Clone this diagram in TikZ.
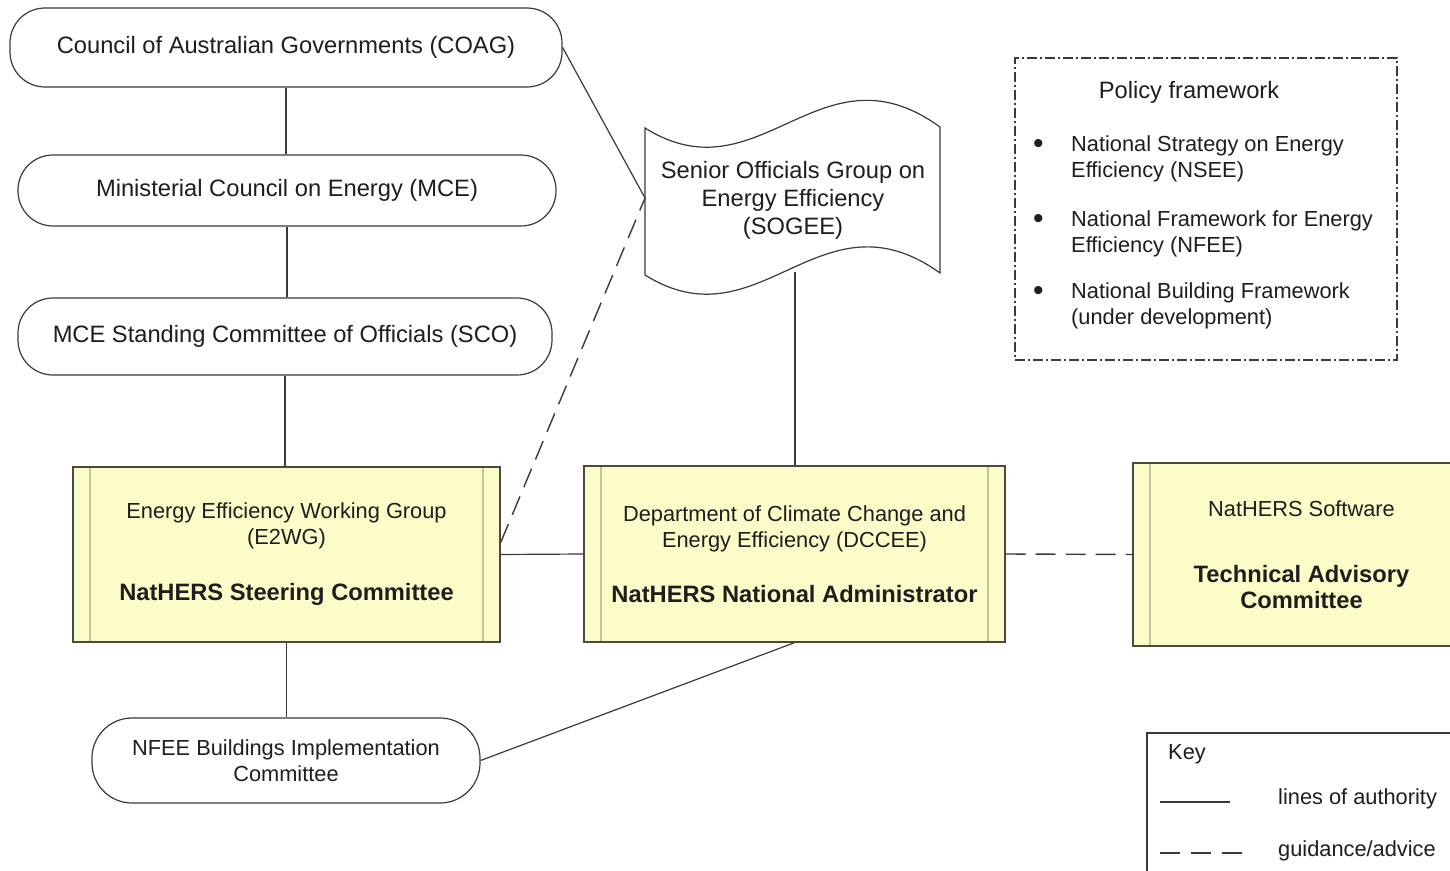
\documentclass[tikz,border=0pt]{standalone}
\usepackage{fontspec}
\setmainfont{Liberation Sans}
\definecolor{linec}{HTML}{3A3A3A}
\definecolor{txtc}{HTML}{1E1E1E}
\definecolor{yfill}{HTML}{FCFCC8}
\definecolor{boxc}{HTML}{4A4A40}
\definecolor{innerc}{HTML}{C4C49C}
\begin{document}
\begin{tikzpicture}[x=1pt,y=-1pt]
\tikzset{
  txt/.style={font=\fontsize{21.8}{26}\selectfont, text=txtc},
  big/.style={font=\fontsize{23.7}{28}\selectfont},
  oval/.style={draw=linec, line width=1.2pt, rounded corners=35pt, inner sep=0pt, txt, align=center},
  ybox/.style={draw=boxc, fill=yfill, line width=1.3pt, inner sep=0pt, align=center, txt,
    path picture={
      \draw[innerc, line width=1.6pt] ([xshift=17pt]path picture bounding box.north west) -- ([xshift=17pt]path picture bounding box.south west);
      \draw[innerc, line width=1.6pt] ([xshift=-17pt]path picture bounding box.north east) -- ([xshift=-17pt]path picture bounding box.south east);
    }},
  auth/.style={draw=linec, line width=1.2pt},
  advice/.style={auth, line width=1.4pt, dash pattern=on 20pt off 10pt},
  ptxt/.style={txt, anchor=west, inner sep=0pt},
}
\newcommand{\bigbf}[1]{{\fontsize{23.7}{28}\selectfont\bfseries #1}}
\useasboundingbox (0,0) rectangle (1450,870);
\clip (0,0) rectangle (1450,870);
\fill[white] (0,0) rectangle (1450,870);

% left column
\node[oval, big, minimum width=552pt, minimum height=79pt] (coag) at (286,47.5) {Council of Australian Governments (COAG)};
\node[oval, big, minimum width=538pt, minimum height=71pt] (mce) at (287,190.5) {Ministerial Council on Energy (MCE)};
\node[oval, big, minimum width=534pt, minimum height=77pt] (sco) at (285,336.5) {MCE Standing Committee of Officials (SCO)};
\node[ybox, minimum width=427pt, minimum height=175pt] (e2wg) at (286.5,554.5)
  {Energy Efficiency Working Group\\(E2WG)\\[30pt]\bigbf{NatHERS Steering Committee}};
\node[ybox, minimum width=421pt, minimum height=176pt] (dccee) at (794.5,554)
  {Department of Climate Change and\\Energy Efficiency (DCCEE)\\[29pt]\bigbf{NatHERS National Administrator}};
\node[ybox, minimum width=337pt, minimum height=183pt] (tac) at (1301.5,554.5)
  {NatHERS Software\\[40pt]\bigbf{Technical Advisory}\\\bigbf{Committee}};
\node[oval, minimum width=388pt, minimum height=85pt, rounded corners=40pt] (nfee) at (286,760.5)
  {NFEE Buildings Implementation\\Committee};

% SOGEE flag
\draw[linec, line width=1.2pt, fill=white]
  (645,128) .. controls (760,200) and (820,40) .. (940,127)
  -- (940,273) .. controls (820,187) and (760,347) .. (645,275) -- cycle;
\node[txt, big, align=center] (sogee) at (793,200)
  {Senior Officials Group on\\Energy Efficiency\\(SOGEE)};
\coordinate (sogeeL) at (645,198);
\coordinate (sogeeB) at (795,272);

% connectors
\draw[auth] (coag.south) -- (coag.south |- mce.north);
\draw[auth] (mce.south) -- (mce.south |- sco.north);
\draw[auth] (sco.south) -- (sco.south |- e2wg.north);
\draw[auth] (e2wg.south) -- (e2wg.south |- nfee.north);
\draw[auth] (coag.east) -- (sogeeL);
\draw[advice] ([yshift=12pt]e2wg.east) -- (sogeeL);
\draw[auth] (e2wg.east) -- (dccee.west);
\draw[auth] (sogeeB) -- (sogeeB |- dccee.north);
\draw[advice] (dccee.east) -- (tac.west);
\draw[auth] (dccee.south) -- (nfee.east);

% policy framework
\node[draw=linec, line width=1.1pt, dash pattern=on 10pt off 3pt on 2pt off 3pt, minimum width=382pt, minimum height=302pt, inner sep=0pt] (policy) at (1206,209) {};
\node[txt, big, inner sep=0pt] (ptitle) at (1189,92) {Policy framework};
\node[ptxt, font=\fontsize{30}{30}\selectfont] (b1) at (1033,146) {•};
\node[ptxt, align=left] (p1) at (1071,159) {National Strategy on Energy\\Efficiency (NSEE)};
\node[ptxt, font=\fontsize{30}{30}\selectfont] (b2) at (1033,221) {•};
\node[ptxt, align=left] (p2) at (1071,234) {National Framework for Energy\\Efficiency (NFEE)};
\node[ptxt, font=\fontsize{30}{30}\selectfont] (b3) at (1033,293) {•};
\node[ptxt, align=left] (p3) at (1071,306) {National Building Framework\\(under development)};

% key
\node[draw=linec, line width=1.2pt, minimum width=320pt, minimum height=160pt, inner sep=0pt] (key) at (1307,813) {};
\node[ptxt] (keyt) at (1168,754) {Key};
\coordinate (k1a) at (1160,802);
\coordinate (k1b) at (1230,802);
\coordinate (k2a) at (1160,853);
\coordinate (k2b) at (1242,853);
\draw[auth, line width=1.5pt] (k1a) -- (k1b);
\draw[auth, line width=1.5pt, dash pattern=on 20pt off 11pt] (k2a) -- (k2b);
\node[ptxt] (kl1) at (1278,799) {lines of authority};
\node[ptxt] (kl2) at (1278,851) {guidance/advice};
\end{tikzpicture}
\end{document}
